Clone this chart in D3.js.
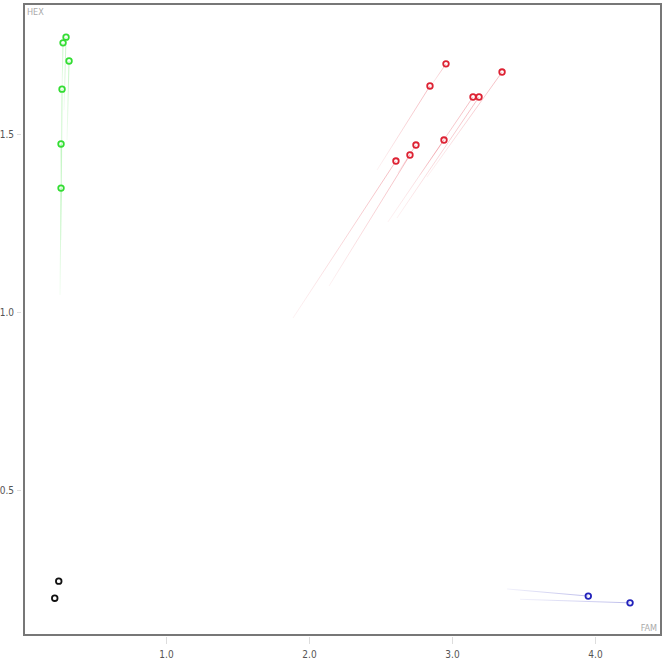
<!DOCTYPE html>
<html><head><meta charset="utf-8">
<script src="https://cdn.jsdelivr.net/npm/d3@7/dist/d3.min.js"></script>
<style>body{margin:0;background:#fff}svg{display:block}</style>
</head><body>
<script>
// Data (FAM = x, HEX = y); each point has a trailing "from" position
const groups = ["green","red","blue","black"];
const groupColors = ["#33dd33","#dd2233","#2222bb","#111111"];
const famValues = [0.301,0.280,0.322,0.273,0.266,0.266,
  2.958,2.846,3.350,3.147,3.189,2.944,2.748,2.706,2.608,
  3.953,4.245, 0.250,0.222];
const hexValues = [1.772,1.756,1.705,1.626,1.472,1.348,
  1.697,1.635,1.674,1.604,1.604,1.483,1.469,1.441,1.424,
  0.202,0.183, 0.244,0.196];
const pointGroup = [0,0,0,0,0,0, 1,1,1,1,1,1,1,1,1, 2,2, 3,3];
const trailFam = [0.287,0.273,0.308,0.266,0.266,0.259,
  2.852,2.476,2.825,2.552,2.615,2.776,2.620,2.140,1.888,
  3.385,3.476, null,null];
const trailHex = [1.567,1.624,1.483,1.202,1.315,1.048,
  1.635,1.399,1.379,1.253,1.264,1.385,1.390,1.073,0.983,
  0.222,0.193, null,null];
const xTicks = [1.0,2.0,3.0,4.0];
const yTicks = [0.5,1.0,1.5];
const xLabel = "FAM", yLabel = "HEX";

(function(){
const W = 666, H = 659;
const svg = d3.select("body").append("svg").attr("width",W).attr("height",H);
const mL = 24, mR = 661, mT = 4, mB = 635;
const x = d3.scaleLinear().domain([0,4.46]).range([23, 23+143*4.46]);
const y = d3.scaleLinear().domain([0,1.5]).range([668, 668-356*1.5]);

const font = "DejaVu Sans Condensed, DejaVu Sans";
const xAxis = d3.axisBottom(x).tickValues(xTicks).tickFormat(d3.format(".1f")).tickSize(7).tickPadding(7);
const yAxis = d3.axisLeft(y).tickValues(yTicks).tickFormat(d3.format(".1f")).tickSize(4).tickPadding(3);
const gx = svg.append("g").attr("transform",`translate(0,${mB+2})`).call(xAxis);
const gy = svg.append("g").attr("transform",`translate(${mL-3},0)`).call(yAxis);
[gx,gy].forEach(g=>{
  g.select(".domain").remove();
  g.selectAll(".tick line").attr("stroke","#ddd");
  g.selectAll(".tick text").attr("fill","#555").style("font-family",font).style("font-size","10px");
});

const defs = svg.append("defs");
const plot = svg.append("g");

const idx = d3.range(famValues.length).filter(i=>trailFam[i]!==null);
idx.forEach(i=>{
  const c = groupColors[pointGroup[i]];
  const gid = "g"+i;
  const gr = defs.append("linearGradient").attr("id",gid).attr("gradientUnits","userSpaceOnUse")
    .attr("x1",x(famValues[i])).attr("y1",y(hexValues[i]))
    .attr("x2",x(trailFam[i])).attr("y2",y(trailHex[i]));
  gr.append("stop").attr("offset","0").attr("stop-color",c).attr("stop-opacity",0.3);
  gr.append("stop").attr("offset","1").attr("stop-color",c).attr("stop-opacity",0.06);
  plot.append("line")
    .attr("x1",x(famValues[i])).attr("y1",y(hexValues[i]))
    .attr("x2",x(trailFam[i])).attr("y2",y(trailHex[i]))
    .attr("stroke",`url(#${gid})`).attr("stroke-width",1);
});

plot.selectAll("circle.pt").data(d3.range(famValues.length)).join("circle")
  .attr("class","pt")
  .attr("cx",i=>x(famValues[i])).attr("cy",i=>y(hexValues[i]))
  .attr("r",2.8).attr("fill","none")
  .attr("stroke",i=>groupColors[pointGroup[i]]).attr("stroke-width",1.8);

svg.append("rect").attr("x",mL).attr("y",mT).attr("width",mR-mL).attr("height",mB-mT)
  .attr("fill","none").attr("stroke","#777").attr("stroke-width",2);

svg.append("text").attr("x",mL+3).attr("y",mT+11).text(yLabel)
  .attr("fill","#aaa").style("font-family",font).style("font-size","9px");
svg.append("text").attr("x",mR-4).attr("y",mB-4).attr("text-anchor","end").text(xLabel)
  .attr("fill","#aaa").style("font-family",font).style("font-size","9px");
})();
</script>
</body></html>
